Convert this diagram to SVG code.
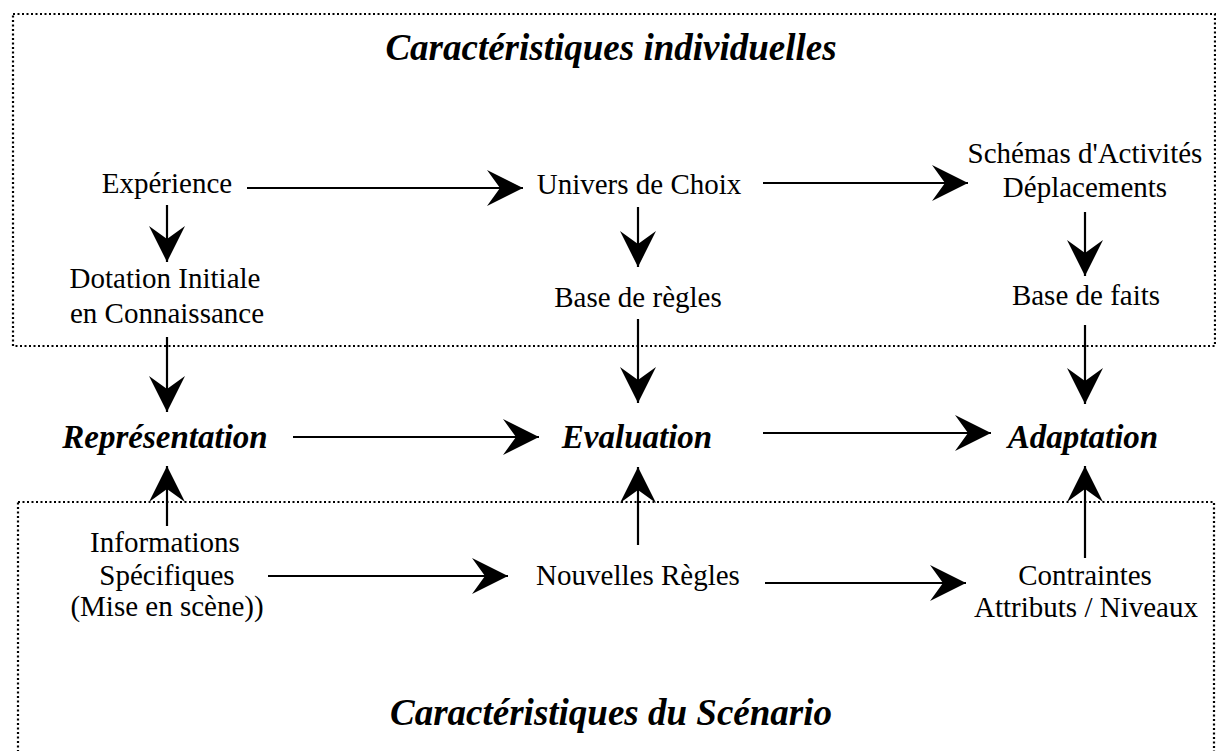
<svg xmlns="http://www.w3.org/2000/svg" width="1216" height="751" viewBox="0 0 1216 751">
<style>
.t{font-family:"Liberation Serif","Times New Roman",serif;font-size:29px;fill:#000;text-anchor:middle}
.m{font-family:"Liberation Serif","Times New Roman",serif;font-size:33px;font-weight:bold;font-style:italic;fill:#000;text-anchor:middle}
.h{font-family:"Liberation Serif","Times New Roman",serif;font-size:37px;font-weight:bold;font-style:italic;fill:#000;text-anchor:middle}
.box{fill:none;stroke:#000;stroke-width:2.2;stroke-dasharray:2 2.5}
.c line{stroke:#000;stroke-width:2.2;marker-end:url(#ah)}
</style>
<defs>
<marker id="ah" viewBox="-37 -19 38 38" refX="0" refY="0" markerWidth="38" markerHeight="38" markerUnits="userSpaceOnUse" orient="auto">
<path d="M0,0 L-36,-18 L-23,0 L-36,18 Z" fill="#000"/>
</marker>
</defs>
<rect width="1216" height="751" fill="#fff"/>
<g id="box-individuelles">
<rect class="box" x="13" y="14" width="1202" height="332"/>
<text class="h" x="611" y="60">Caractéristiques individuelles</text>
</g>
<g id="box-scenario">
<rect class="box" x="18" y="502" width="1196" height="270"/>
<text class="h" x="611" y="725">Caractéristiques du Scénario</text>
</g>
<g id="experience"><text class="t" x="167" y="193">Expérience</text></g>
<g id="univers"><text class="t" x="639" y="194">Univers de Choix</text></g>
<g id="schemas"><text class="t" x="1085" y="163">Schémas d'Activités</text><text class="t" x="1085" y="197">Déplacements</text></g>
<g id="dotation"><text class="t" x="165" y="288">Dotation Initiale</text><text class="t" x="167" y="323">en Connaissance</text></g>
<g id="base-regles"><text class="t" x="638" y="307">Base de règles</text></g>
<g id="base-faits"><text class="t" x="1086" y="305">Base de faits</text></g>
<g id="representation"><text class="m" x="165" y="448">Représentation</text></g>
<g id="evaluation"><text class="m" x="637" y="448">Evaluation</text></g>
<g id="adaptation"><text class="m" x="1083" y="448">Adaptation</text></g>
<g id="informations"><text class="t" x="165" y="552">Informations</text><text class="t" x="167" y="585">Spécifiques</text><text class="t" x="167" y="616">(Mise en scène))</text></g>
<g id="nouvelles-regles"><text class="t" x="638" y="585">Nouvelles Règles</text></g>
<g id="contraintes"><text class="t" x="1085" y="585">Contraintes</text><text class="t" x="1086" y="617">Attributs / Niveaux</text></g>
<g id="connectors" class="c">
<line x1="247" y1="188" x2="523" y2="188"/>
<line x1="763" y1="183" x2="968" y2="183"/>
<line x1="167" y1="205" x2="167" y2="262"/>
<line x1="638" y1="207" x2="638" y2="267"/>
<line x1="1085" y1="212" x2="1085" y2="276"/>
<line x1="167" y1="337" x2="167" y2="412"/>
<line x1="638" y1="319" x2="638" y2="403"/>
<line x1="1085" y1="325" x2="1085" y2="404"/>
<line x1="293" y1="437" x2="539" y2="437"/>
<line x1="763" y1="433" x2="991" y2="433"/>
<line x1="167" y1="526" x2="167" y2="466"/>
<line x1="638" y1="545" x2="638" y2="467"/>
<line x1="1085" y1="558" x2="1085" y2="466"/>
<line x1="268" y1="576" x2="508" y2="576"/>
<line x1="765" y1="583" x2="966" y2="583"/>
</g>
</svg>
